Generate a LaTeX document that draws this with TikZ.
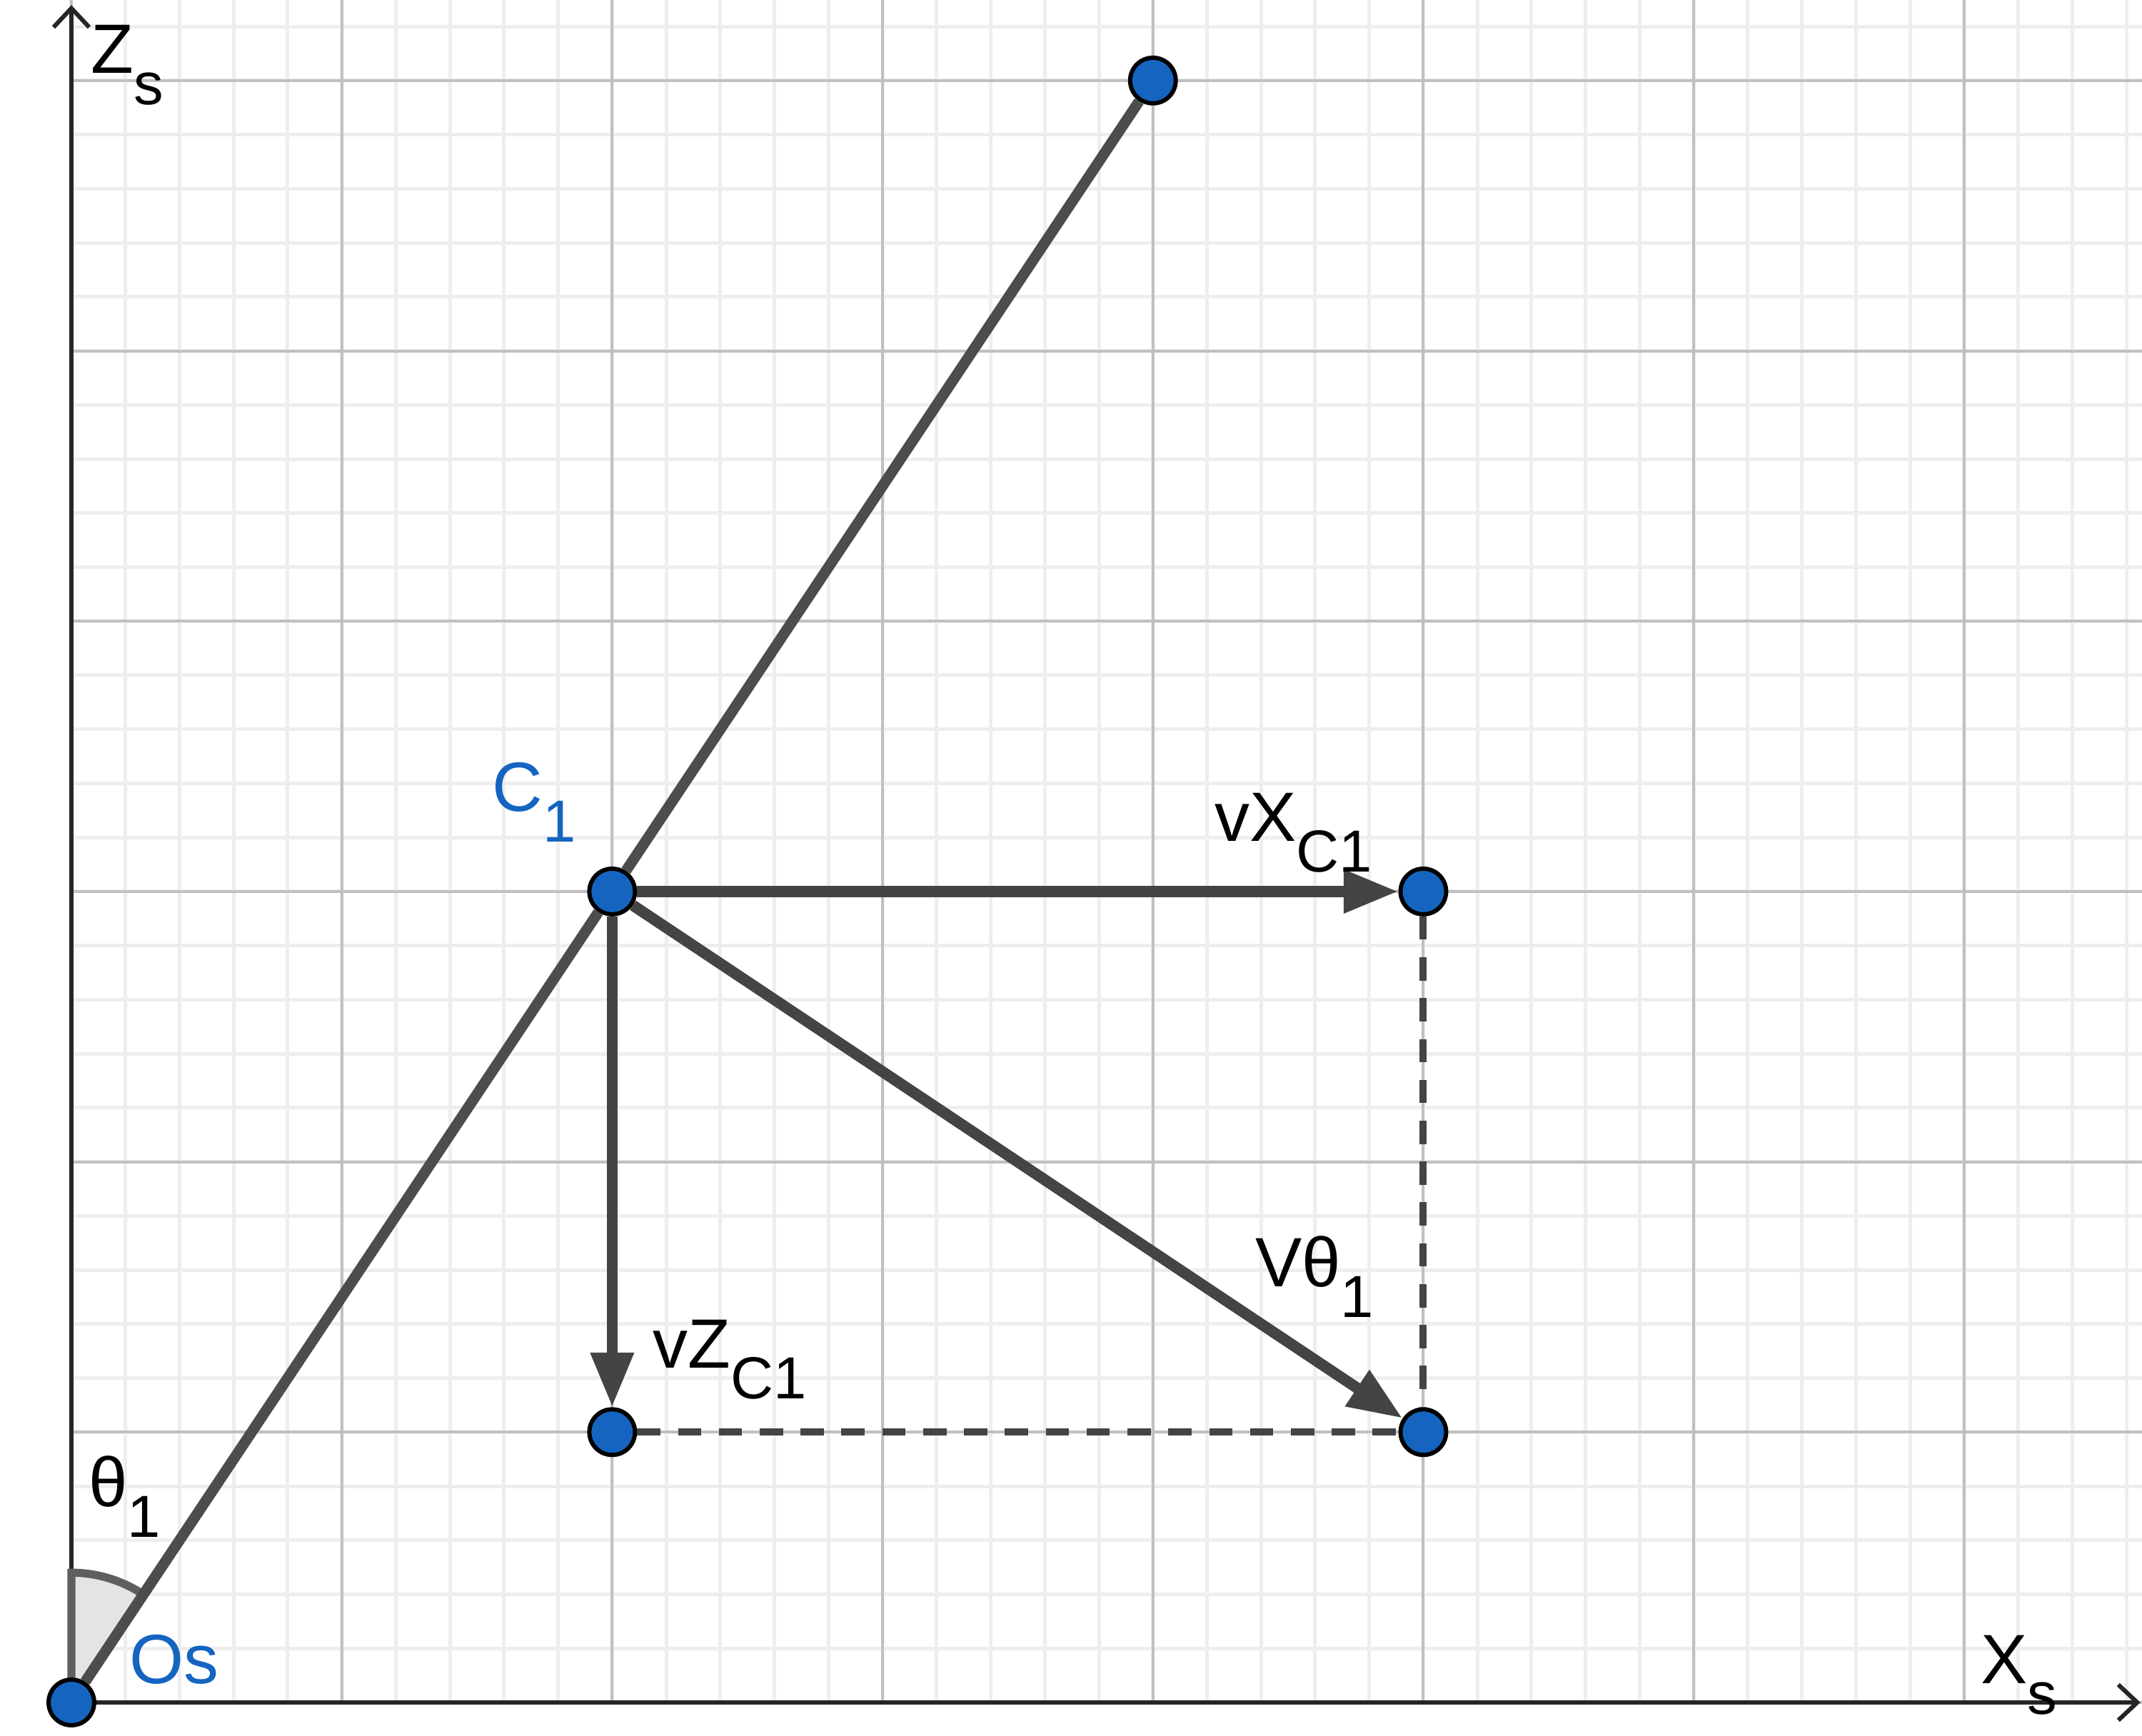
\documentclass[tikz,border=0pt]{standalone}
\usepackage{fontspec}
\setmainfont{Liberation Sans}
\usetikzlibrary{arrows.meta}
\definecolor{ptblue}{HTML}{1565C0}
\definecolor{axisgray}{HTML}{252525}
\definecolor{majorgrid}{HTML}{C0C0C0}
\definecolor{minorgrid}{HTML}{EEEEEE}
\definecolor{seggray}{HTML}{4D4D4D}
\definecolor{vecgray}{HTML}{444444}
\definecolor{sectorfill}{HTML}{E4E4E4}
\definecolor{sectorline}{HTML}{5F5F5F}
\newcommand{\lowsub}[1]{\raisebox{-0.44em}{\fontsize{12.5}{14}\selectfont #1}}

\begin{document}
\begin{tikzpicture}[x=2cm, y=2cm,
    font=\fontsize{14.7}{17}\selectfont,
    minor/.style={draw=minorgrid, line width=0.75pt},
    major/.style={draw=majorgrid, line width=0.6pt},
    axis/.style={draw=axisgray, line width=0.9pt, -{Straight Barb[length=4pt, width=7.5pt]}},
    pt/.style={circle, draw=black, line width=0.9pt, fill=ptblue, minimum size=9.6pt, inner sep=0pt},
    seg/.style={draw=seggray, line width=2.25pt},
    vec/.style={draw=vecgray, line width=2.35pt, -{Triangle[length=11.5pt, width=8.6pt]}},
    proj/.style={draw=vecgray, line width=1.5pt, dash pattern=on 4.9pt off 3.7pt},
    sector/.style={draw=sectorline, fill=sectorfill, line width=1.7pt},
    lbl/.style={anchor=base west, inner sep=0pt},
]
\useasboundingbox (-0.264,-0.1215) rectangle (7.658,6.298);

% Grid
\draw[minor] (0,0) grid[step=0.2] (7.658,6.298);
\draw[major] (0,0) grid[step=1] (7.658,6.298);

% Axes
\coordinate (orig) at (0,0);
\coordinate (xend) at (7.652,0);
\coordinate (zend) at (0,6.279);
\draw[axis] (orig) -- (xend);
\draw[axis] (orig) -- (zend);

% Angle theta_1
\filldraw[sector] (orig) -- (90:0.48) arc[start angle=90, end angle=56.31, radius=0.48] -- cycle;

% Points
\node[pt] (Os) at (0,0) {};
\node[pt] (C1) at (2,3) {};
\node[pt] (T) at (4,6) {};
\node[pt] (pX) at (5,3) {};
\node[pt] (pZ) at (2,1) {};
\node[pt] (pV) at (5,1) {};

% Segment and velocity vectors
\draw[seg] (Os) -- (C1);
\draw[seg] (C1) -- (T);
\draw[proj] (pX) -- (pV);
\draw[proj] (pZ) -- (pV);
\draw[vec] (C1) -- (pX);
\draw[vec] (C1) -- (pZ);
\draw[vec] (C1) -- (pV);

% Labels
\node[lbl] (zlab) at (0.07,6.026) {Z\lowsub{s}};
\node[lbl] (xlab) at (7.059,0.071) {X\lowsub{s}};
\node[lbl, text=ptblue] (oslab) at (0.211,0.071) {Os};
\node[lbl, text=ptblue] (c1lab) at (1.553,3.298) {C\lowsub{1}};
\node[lbl] (vxlab) at (4.225,3.187) {vX\lowsub{C1}};
\node[lbl] (vzlab) at (2.147,1.236) {vZ\lowsub{C1}};
\node[lbl] (vtlab) at (4.375,1.539) {Vθ\lowsub{1}};
\node[lbl] (thlab) at (0.06,0.726) {θ\lowsub{1}};

\end{tikzpicture}
\end{document}
